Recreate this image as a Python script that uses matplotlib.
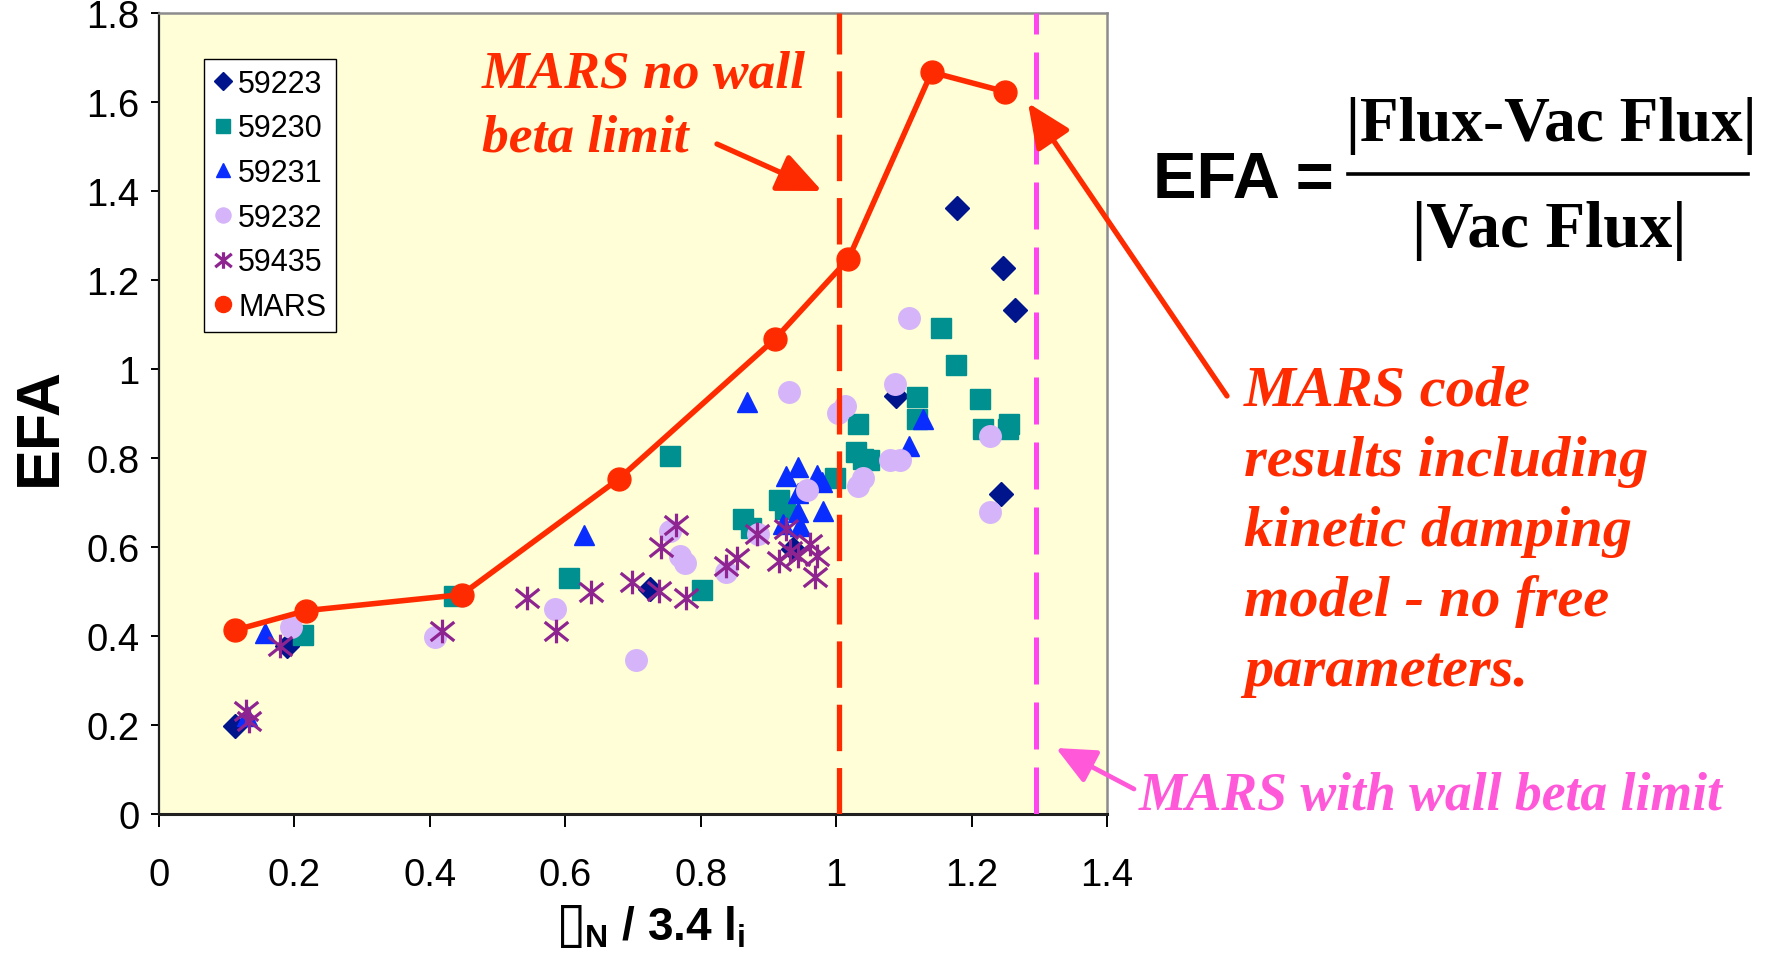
"""EFA vs beta_N / 3.4 li with MARS model comparison."""
import matplotlib
matplotlib.use('Agg')
import matplotlib.pyplot as plt
from matplotlib.lines import Line2D
from matplotlib.patches import FancyArrowPatch
from matplotlib.path import Path

W, H = 1781, 954

RED = '#FF2B00'
MAGENTA = '#FF44F0'
PINK = '#FF58D8'
NAVY = '#00148C'
TEAL = '#009090'
BLUE = '#0A2DFF'
LILAC = '#D6B4FA'
PURPLE = '#8E2490'
BG = '#FFFED6'

plt.rcParams.update({
    'font.family': ['Liberation Sans', 'DejaVu Sans'],
    'axes.linewidth': 1.6,
})

# ---- data ----
s59223_x = [0.112, 0.189, 0.725, 0.937, 1.089, 1.178, 1.246, 1.264, 1.244]
s59223_y = [0.198, 0.377, 0.506, 0.596, 0.940, 1.361, 1.228, 1.133, 0.719]

s59230_x = [0.213, 0.436, 0.606, 0.755, 0.802, 0.863, 0.874, 0.916, 0.925, 0.999, 1.029,
            1.032, 1.040, 1.048, 1.119, 1.119, 1.155, 1.177, 1.213, 1.217, 1.256, 1.254]
s59230_y = [0.402, 0.489, 0.530, 0.805, 0.504, 0.663, 0.642, 0.706, 0.685, 0.754, 0.813,
            0.876, 0.798, 0.796, 0.938, 0.888, 1.093, 1.009, 0.933, 0.865, 0.876, 0.865]

s59231_x = [0.130, 0.157, 0.627, 0.868, 0.926, 0.944, 0.971, 0.979, 0.944, 0.944, 0.980,
            0.922, 0.947, 1.107, 1.128]
s59231_y = [0.221, 0.407, 0.627, 0.925, 0.760, 0.779, 0.762, 0.745, 0.722, 0.678, 0.681,
            0.652, 0.648, 0.828, 0.888]

s59232_x = [0.195, 0.408, 0.585, 0.704, 0.755, 0.770, 0.777, 0.838, 0.885, 0.931, 0.957,
            1.003, 1.013, 1.033, 1.040, 1.080, 1.095, 1.087, 1.108, 1.227, 1.227]
s59232_y = [0.420, 0.397, 0.461, 0.345, 0.637, 0.580, 0.565, 0.543, 0.629, 0.949, 0.727,
            0.902, 0.917, 0.738, 0.756, 0.796, 0.796, 0.966, 1.115, 0.850, 0.679]

s59435_x = [0.129, 0.133, 0.179, 0.418, 0.544, 0.587, 0.638, 0.698, 0.739, 0.742, 0.763,
            0.778, 0.838, 0.853, 0.883, 0.915, 0.926, 0.932, 0.944, 0.962, 0.971, 0.969]
s59435_y = [0.232, 0.208, 0.378, 0.412, 0.485, 0.412, 0.500, 0.522, 0.502, 0.601, 0.649,
            0.485, 0.558, 0.576, 0.629, 0.569, 0.640, 0.592, 0.580, 0.607, 0.580, 0.532]

mars_x = [0.112, 0.217, 0.447, 0.679, 0.910, 1.018, 1.141, 1.250]
mars_y = [0.413, 0.457, 0.493, 0.753, 1.068, 1.247, 1.667, 1.623]

no_wall_limit = 1.004
with_wall_limit = 1.295

x_ticks = [0, 0.2, 0.4, 0.6, 0.8, 1.0, 1.2, 1.4]
x_ticklabels = ['0', '0.2', '0.4', '0.6', '0.8', '1', '1.2', '1.4']
y_ticks = [0, 0.2, 0.4, 0.6, 0.8, 1.0, 1.2, 1.4, 1.6, 1.8]
y_ticklabels = ['0', '0.2', '0.4', '0.6', '0.8', '1', '1.2', '1.4', '1.6', '1.8']


def fx(px):
    return px / W


def fy(py):
    return 1 - py / H


fig = plt.figure(figsize=(W / 100, H / 100), dpi=100)
ax = fig.add_axes([fx(159), fy(815), 948 / W, 801 / H])
ax.set_facecolor(BG)

# asterisk: vertical bar plus a flat X
ast = Path([(0, 1), (0, -1), (-1, 0.8), (1, -0.8), (-1, -0.8), (1, 0.8)],
           [Path.MOVETO, Path.LINETO] * 3)

ax.plot(s59223_x, s59223_y, ls='none', marker='D', ms=12.5, color=NAVY, mec=NAVY,
        label='59223', zorder=3)
ax.plot(s59230_x, s59230_y, ls='none', marker='s', ms=15, color=TEAL, mec=TEAL,
        label='59230', zorder=3)
ax.plot(s59231_x, s59231_y, ls='none', marker='^', ms=14, color=BLUE, mec=BLUE,
        label='59231', zorder=3)
ax.plot(s59232_x, s59232_y, ls='none', marker='o', ms=15.5, color=LILAC, mec=LILAC,
        label='59232', zorder=3)
ax.plot(s59435_x, s59435_y, ls='none', marker=ast, ms=17, mew=2.3, mec=PURPLE,
        mfc='none', color=PURPLE, label='59435', zorder=3)

ax.axvline(no_wall_limit, color=RED, lw=3.8, dashes=(8.8, 3.2), zorder=4)
ax.axvline(with_wall_limit, color=MAGENTA, lw=3.6, dashes=(9.4, 3.6), zorder=4)

ax.plot(mars_x, mars_y, color=RED, lw=4, zorder=5)
ax.plot(mars_x, mars_y, ls='none', marker='o', ms=16.5, color=RED, mec=RED,
        label='MARS', zorder=6)

ax.set_xlim(0, 1.4)
ax.set_ylim(0, 1.8)
ax.set_xticks(x_ticks)
ax.set_xticklabels(x_ticklabels)
ax.set_yticks(y_ticks)
ax.set_yticklabels(y_ticklabels)
ax.tick_params(axis='y', direction='out', length=6, width=1.4, pad=8, labelsize=27.5)
ax.tick_params(axis='x', direction='out', length=9, width=1.4, pad=22, labelsize=27.5)

for side in ['top', 'right']:
    ax.spines[side].set_color('#8C8C8C')
    ax.spines[side].set_linewidth(1.8)
ax.spines['left'].set_color('#202020')
ax.spines['bottom'].set_color('#202020')
ax.spines['bottom'].set_linewidth(2.2)

leg = ax.legend(loc='upper left', bbox_to_anchor=((204 - 159) / 948, (815 - 60) / 801),
                borderaxespad=0, fontsize=22, markerscale=0.7, frameon=True,
                fancybox=False, framealpha=1, edgecolor='black', handlelength=0.6,
                handletextpad=0.2, borderpad=0.32, labelspacing=0.48)
leg.get_frame().set_linewidth(1.0)

# axis labels
fig.text(fx(40), fy(426), 'EFA', rotation=90, ha='center', va='center',
         fontsize=44, fontweight='bold')
fig.text(fx(556), fy(941), '\u25af', ha='left', va='baseline', fontsize=40,
         family='DejaVu Sans')
fig.text(fx(584), fy(941), '$\\mathregular{_N}$ / 3.4 l$\\mathregular{_i}$',
         ha='left', va='baseline', fontsize=33, fontweight='bold')

# EFA definition
fig.text(fx(1153), fy(198), 'EFA =', ha='left', va='baseline', fontsize=47,
         fontweight='bold')
fig.text(fx(1551), fy(141), '|Flux-Vac Flux|', ha='center', va='baseline',
         fontsize=45.5, fontweight='bold', family='Liberation Serif')
fig.text(fx(1549), fy(247), '|Vac Flux|', ha='center', va='baseline',
         fontsize=47, fontweight='bold', family='Liberation Serif')
fig.add_artist(Line2D([fx(1348), fx(1748)], [fy(175), fy(175)], color='black', lw=2.6))

# annotations
serif_bi = dict(family='Liberation Serif', style='italic', fontweight='bold')
fig.text(fx(482), fy(88), 'MARS no wall', va='baseline', fontsize=38.5, color=RED, **serif_bi)
fig.text(fx(482), fy(152), 'beta limit', va='baseline', fontsize=38.5, color=RED, **serif_bi)

right_lines = ['MARS code', 'results including', 'kinetic damping',
               'model - no free', 'parameters.']
for i, line in enumerate(right_lines):
    fig.text(fx(1244), fy(406 + 70 * i), line, va='baseline', fontsize=42,
             color=RED, **serif_bi)

fig.text(fx(1139), fy(810), 'MARS with wall beta limit', va='baseline', fontsize=38.6,
         color=PINK, **serif_bi)


def arrow(tail, tip, color, lw=3.8, hl=1.35, hw=0.6):
    a = FancyArrowPatch((fx(tail[0]), fy(tail[1])), (fx(tip[0]), fy(tip[1])),
                        transform=fig.transFigure,
                        arrowstyle=f'-|>,head_length={hl},head_width={hw}',
                        mutation_scale=20, lw=lw, color=color, shrinkA=0, shrinkB=0)
    fig.add_artist(a)


arrow((717, 145), (822, 192), RED)
arrow((1227, 397), (1028, 104), RED)
arrow((1134, 790), (1056, 749), PINK, lw=3.4, hl=1.2, hw=0.55)

fig.savefig('out.png', dpi=100, facecolor='white')
